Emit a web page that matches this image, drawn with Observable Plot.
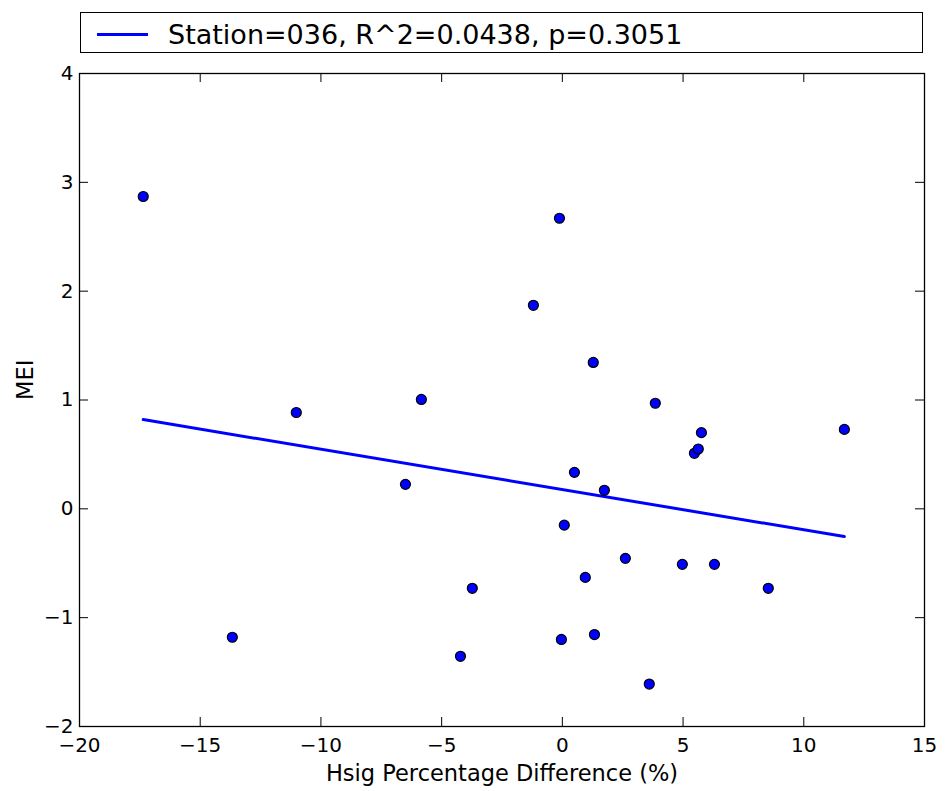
<!DOCTYPE html>
<html>
<head>
<meta charset="utf-8">
<script src="https://cdn.jsdelivr.net/npm/d3@7"></script>
<script src="https://cdn.jsdelivr.net/npm/@observablehq/plot@0.6"></script>
<style>
  html, body { margin: 0; padding: 0; background: #fff; }
  #wrap { position: relative; width: 945px; height: 791px; }
  #legend {
    position: absolute; left: 80px; top: 12px; width: 841px; height: 39px;
    border: 1px solid #000; box-sizing: content-box; background: #fff;
    font-family: "DejaVu Sans", sans-serif; font-size: 27px; line-height: 1; color: #000;
  }
  #legend .swatch { position: absolute; left: 16px; top: 20px; width: 51px; height: 3px; background: #0000ff; }
  #legend .label { position: absolute; left: 87px; top: 8px; white-space: nowrap; }
</style>
</head>
<body>
<div id="wrap">
  <div id="chart"></div>
  <div id="legend"><div class="swatch"></div><div class="label"></div></div>
</div>
<script>
// Scatter data: Hsig percentage difference (%) vs MEI
const hsigDiff = [-17.36, -13.67, -11.02, -5.84, -6.50, -3.73, -4.22, -1.20, -0.12, 0.08,
                  -0.04, 0.50, 0.95, 1.28, 1.33, 1.74, 2.61, 3.60, 3.85, 4.97,
                  5.47, 5.63, 5.76, 6.30, 8.53, 11.68];
const mei = [2.87, -1.18, 0.885, 1.005, 0.225, -0.73, -1.355, 1.87, 2.67, -0.15,
             -1.20, 0.335, -0.63, 1.345, -1.155, 0.17, -0.455, -1.61, 0.97, -0.51,
             0.51, 0.55, 0.70, -0.51, -0.73, 0.73];
// Regression line endpoints
const fitX = [-17.36, 11.68];
const fitY = [0.82, -0.255];
// Ticks
const xTicks = [-20, -15, -10, -5, 0, 5, 10, 15];
const yTicks = [-2, -1, 0, 1, 2, 3, 4];
const legendLabel = "Station=036, R^2=0.0438, p=0.3051";
const xLabel = "Hsig Percentage Difference (%)";
const yLabel = "MEI";

const points = hsigDiff.map((x, i) => ({x, y: mei[i]}));
const fit = fitX.map((x, i) => ({x, y: fitY[i]}));

const W = 945, H = 791, mT = 73, mB = 65, mL = 79, mR = 21;
const frameH = H - mT - mB, frameW = W - mL - mR, tl = 9;
const fmt = d3.format("d");

const chart = Plot.plot({
  width: W, height: H,
  marginTop: mT, marginBottom: mB, marginLeft: mL, marginRight: mR,
  style: {fontFamily: "DejaVu Sans, sans-serif", fontSize: "20px", color: "#000", background: "#fff"},
  x: {domain: [-20, 15]},
  y: {domain: [-2, 4]},
  marks: [
    Plot.axisX(xTicks, {tickSize: 0, tickPadding: 11, label: null, fontSize: 20, tickFormat: fmt}),
    Plot.axisY(yTicks, {tickSize: 0, tickPadding: 6, label: null, fontSize: 20, tickFormat: fmt}),
    Plot.tickX(xTicks, {x: d => d, insetTop: frameH - tl, stroke: "#000"}),
    Plot.tickX(xTicks, {x: d => d, insetBottom: frameH - tl, stroke: "#000"}),
    Plot.tickY(yTicks, {y: d => d, insetRight: frameW - tl, stroke: "#000"}),
    Plot.tickY(yTicks, {y: d => d, insetLeft: frameW - tl, stroke: "#000"}),
    Plot.line(fit, {x: "x", y: "y", stroke: "#0000ff", strokeWidth: 3}),
    Plot.dot(points, {x: "x", y: "y", r: 5, fill: "#0000ff", stroke: "#000", strokeWidth: 1.2}),
    Plot.frame({stroke: "#000", strokeWidth: 1.3}),
    Plot.text([xLabel], {frameAnchor: "bottom", lineAnchor: "middle", dy: 47, fontSize: 22.5, text: d => d}),
    Plot.text([yLabel], {frameAnchor: "left", lineAnchor: "middle", dx: -54, rotate: -90, fontSize: 22.5, text: d => d})
  ]
});
document.getElementById("chart").appendChild(chart);
document.querySelector("#legend .label").textContent = legendLabel;
</script>
</body>
</html>
